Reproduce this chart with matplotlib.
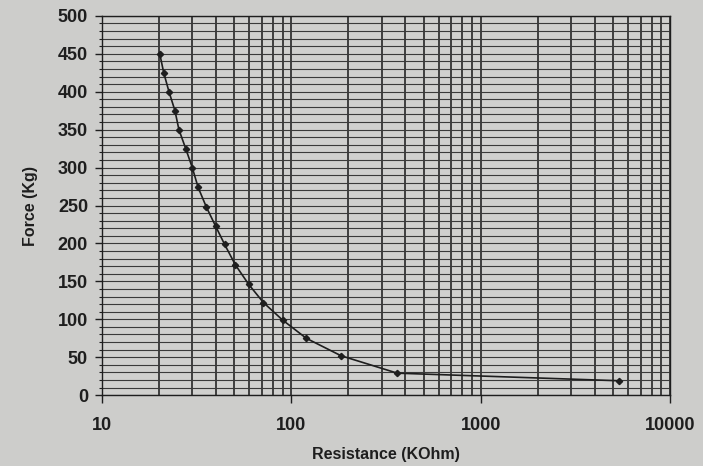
import numpy as np
import matplotlib.pyplot as plt
from matplotlib.ticker import FixedLocator, MultipleLocator, LogLocator, NullFormatter

# data
resistance = [20.2, 21.2, 22.6, 24.3, 25.5, 27.7, 30.0, 32.2, 35.6, 39.8,
              44.4, 50.6, 59.6, 71.3, 90.0, 120, 183, 363, 5370]
force = [450, 425, 400, 375, 350, 325, 300, 274, 248, 223,
         199, 172, 146, 122, 99, 75, 52, 29, 19]

x_ticks = [10, 100, 1000, 10000]
x_tick_labels = ["10", "100", "1000", "10000"]
y_ticks = list(range(0, 501, 50))

bg = "#cdcdcb"
ink = "#1e1e1e"

plt.rcParams['font.family'] = ['Liberation Sans', 'DejaVu Sans']

fig = plt.figure(figsize=(7.03, 4.66), dpi=100, facecolor=bg)
ax = fig.add_axes([0.145, 0.152, 0.808, 0.814], facecolor="#d0d0ce")

ax.set_xscale("log")
ax.set_xlim(10, 10000)
ax.set_ylim(0, 500)

ax.plot(resistance, force, color=ink, linewidth=1.2, marker="D",
        markersize=3.2, markerfacecolor=ink, markeredgecolor=ink, zorder=3)

# grid: every decade subdivision vertically, every 10 kg horizontally
ax.xaxis.set_major_locator(FixedLocator(x_ticks))
ax.xaxis.set_minor_locator(LogLocator(base=10, subs=np.arange(2, 10)))
ax.xaxis.set_minor_formatter(NullFormatter())
ax.set_xticklabels(x_tick_labels)
ax.yaxis.set_major_locator(FixedLocator(y_ticks))
ax.yaxis.set_minor_locator(MultipleLocator(10))

ax.grid(which="both", axis="x", color="#262626", linewidth=1.2)
ax.grid(which="both", axis="y", color="#3a3a3a", linewidth=0.8)

ax.tick_params(axis="x", which="major", length=6, width=1, color=ink,
               labelsize=13, pad=10, labelcolor=ink)
ax.tick_params(axis="x", which="minor", length=0)
ax.tick_params(axis="y", which="major", length=5, width=1, color=ink,
               labelsize=13, pad=5, labelcolor=ink)
ax.tick_params(axis="y", which="minor", length=2.5, width=0.8, color=ink)
for lab in ax.get_xticklabels() + ax.get_yticklabels():
    lab.set_fontweight("bold")

for s in ax.spines.values():
    s.set_color(ink)
    s.set_linewidth(1.0)

ax.set_xlabel("Resistance (KOhm)", fontsize=11.5, fontweight="bold", color=ink, labelpad=9)
ax.set_ylabel("Force (Kg)", fontsize=11.5, fontweight="bold", color=ink, labelpad=14)

fig.savefig("out.png", dpi=100, facecolor=bg)
